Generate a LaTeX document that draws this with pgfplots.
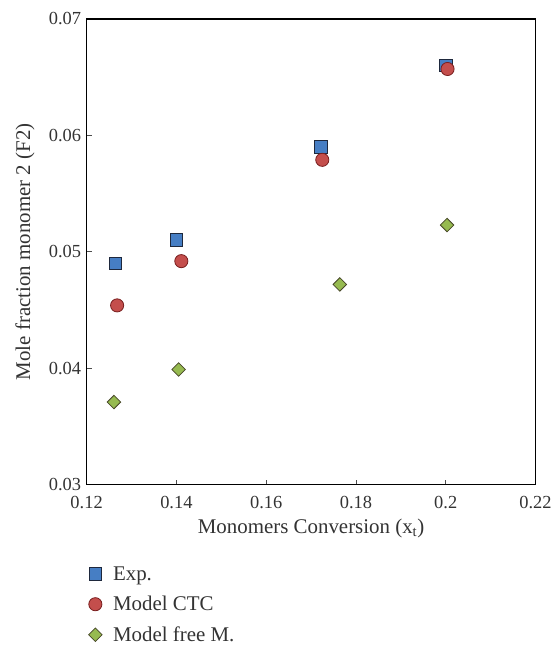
\documentclass[border=0pt]{standalone}
\usepackage{fontspec}
\setmainfont{Liberation Serif}
\usepackage{pgfplots}
\pgfplotsset{compat=1.18}
\definecolor{bluef}{RGB}{70,126,196}
\definecolor{bluee}{RGB}{30,40,60}
\definecolor{redf}{RGB}{196,78,76}
\definecolor{rede}{RGB}{120,30,30}
\definecolor{greenf}{RGB}{150,186,80}
\definecolor{greene}{RGB}{70,70,40}
\begin{document}
\begin{tikzpicture}
\begin{axis}[
  name=ax,
  scale only axis,
  width=451pt, height=468pt,
  xmin=0.12, xmax=0.22, ymin=0.03, ymax=0.07,
  xtick={0.12,0.14,...,0.22},
  ytick={0.03,0.04,...,0.07},
  xticklabels={0.12,0.14,0.16,0.18,0.2,0.22},
  yticklabels={0.03,0.04,0.05,0.06,0.07},
  scaled x ticks=false, scaled y ticks=false,
  tick align=inside,
  xtick pos=bottom, ytick pos=left,
  major tick length=5pt,
  tick style={black!70, line width=0.8pt},
  axis line style={black, line width=1.2pt},
  /pgf/number format/assume math mode=true,
  tick label style={font=\fontsize{18.5}{21}\selectfont, text=black!80},
  xticklabel style={yshift=-8.5pt},
  yticklabel style={xshift=-2pt},
  label style={font=\fontsize{21}{24}\selectfont, text=black!80},
  xlabel={Monomers Conversion (x\textsubscript{t})},
  ylabel={Mole fraction monomer 2 (F2)},
  xlabel style={at={(axis description cs:0.5,-0.094)}, anchor=center},
  ylabel style={at={(axis description cs:-0.1375,0.5)}, anchor=center},
  legend style={draw=none, at={(0.004,-0.171)}, anchor=north west, inner sep=0pt,
    font=\fontsize{21}{24}\selectfont, text=black!80, row sep=10.5pt,
    legend cell align=left, fill=none,
    /tikz/every odd column/.append style={column sep=9pt}},
  legend image code/.code={\draw[#1] plot coordinates {(0cm,0cm)};},
]
\addplot[only marks, mark=square*, mark size=6.3pt, mark options={fill=bluef, draw=bluee, line width=1pt}]
  coordinates {(0.1264,0.0490) (0.1400,0.0510) (0.1722,0.0590) (0.2000,0.0660)};
\addlegendentry{Exp.}
\addplot[only marks, mark=*, mark size=6.6pt, mark options={fill=redf, draw=rede, line width=0.8pt}]
  coordinates {(0.1268,0.0454) (0.1411,0.0492) (0.1725,0.0579) (0.2004,0.0657)};
\addlegendentry{Model CTC}
\addplot[only marks, mark=square*, mark size=4.8pt, mark options={rotate=45, fill=greenf, draw=greene, line width=0.8pt}]
  coordinates {(0.1261,0.0371) (0.1405,0.0399) (0.1764,0.0472) (0.2003,0.0523)};
\addlegendentry{Model free M.}
\end{axis}
\pgfresetboundingbox
\path (ax.south west) ++(-87pt,-162pt) rectangle ([shift={(17pt,19pt)}]ax.north east);
\end{tikzpicture}
\end{document}
